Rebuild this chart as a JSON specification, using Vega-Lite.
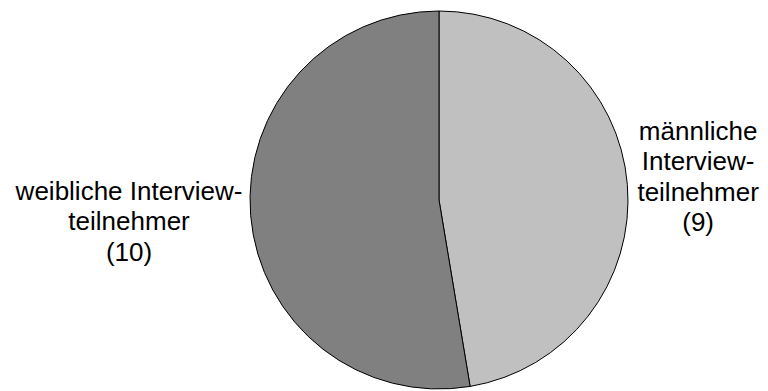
{
  "$schema": "https://vega.github.io/schema/vega-lite/v6.json",
  "autosize": "none",
  "width": 658,
  "height": 390,
  "padding": {"left": 110, "top": 5, "right": 0, "bottom": 0},
  "background": "white",
  "config": {"view": {"stroke": null}},
  "data": {
    "values": [
      {"idx": 1, "group": "männlich", "count": 9, "label": "männliche\nInterview-\nteilnehmer\n(9)"},
      {"idx": 2, "group": "weiblich", "count": 10, "label": "weibliche Interview-\nteilnehmer\n(10)"}
    ]
  },
  "layer": [
    {
      "mark": {"type": "arc", "outerRadius": 189, "stroke": "#000000", "strokeWidth": 1},
      "encoding": {
        "theta": {"field": "count", "type": "quantitative", "stack": true},
        "order": {"field": "idx", "type": "quantitative"},
        "color": {"field": "group", "type": "nominal", "scale": {"domain": ["männlich", "weiblich"], "range": ["#c0c0c0", "#808080"]}, "legend": null}
      }
    },
    {
      "mark": {"type": "text", "radius": 260, "font": "Liberation Sans", "fontSize": 26, "lineBreak": "\n", "lineHeight": 30.5, "align": "center", "baseline": "middle", "dy": -47, "color": "#000000"},
      "encoding": {
        "theta": {"field": "count", "type": "quantitative", "stack": true},
        "order": {"field": "idx", "type": "quantitative"},
        "text": {"condition": {"test": "datum.idx == 1", "field": "label"}, "value": ""}
      }
    },
    {
      "mark": {"type": "text", "radius": 311, "font": "Liberation Sans", "fontSize": 26, "lineBreak": "\n", "lineHeight": 30.5, "align": "center", "baseline": "middle", "dy": -34, "color": "#000000"},
      "encoding": {
        "theta": {"field": "count", "type": "quantitative", "stack": true},
        "order": {"field": "idx", "type": "quantitative"},
        "text": {"condition": {"test": "datum.idx == 2", "field": "label"}, "value": ""}
      }
    }
  ]
}
